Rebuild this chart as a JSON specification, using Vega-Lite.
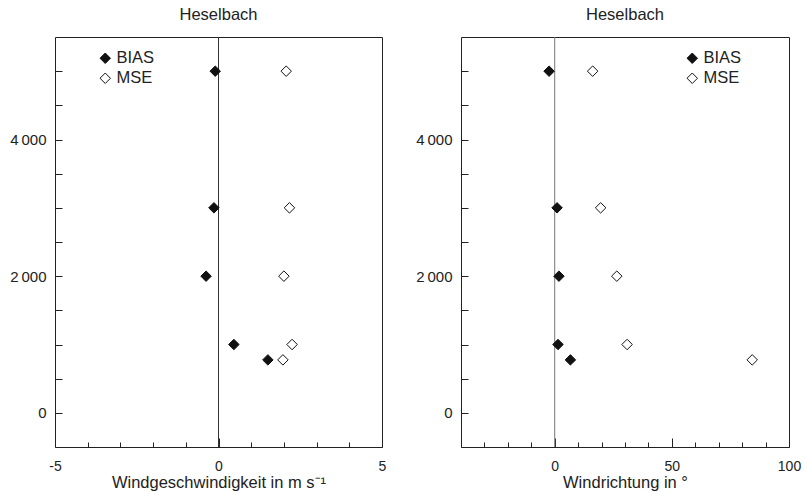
{
  "$schema": "https://vega.github.io/schema/vega-lite/v6.json",
  "padding": {"left": 9, "top": 6, "right": 0, "bottom": 0},
  "config": {
    "font": "Liberation Sans",
    "view": {"stroke": "#222", "strokeWidth": 1},
    "axis": {"grid": false, "domain": false, "labelOverlap": false, "labelFont": "Liberation Sans", "labelFontSize": 15, "labelColor": "#222", "titleFont": "Liberation Sans", "titleFontSize": 16.5, "titleFontWeight": "normal", "titleColor": "#222", "tickColor": "#222", "tickWidth": 1},
    "title": {"font": "Liberation Sans", "fontSize": 16.5, "fontWeight": "normal", "color": "#222", "anchor": "middle", "offset": 13},
    "legend": {"labelFont": "Liberation Sans", "labelFontSize": 16.5, "labelColor": "#222"},
    "concat": {"spacing": 28}
  },
  "datasets": {
    "pts": [
      {"panel": "speed", "stat": "BIAS", "height": 5000, "value": -0.1},
      {"panel": "speed", "stat": "BIAS", "height": 3000, "value": -0.14},
      {"panel": "speed", "stat": "BIAS", "height": 2000, "value": -0.38},
      {"panel": "speed", "stat": "BIAS", "height": 1000, "value": 0.47},
      {"panel": "speed", "stat": "BIAS", "height": 775, "value": 1.51},
      {"panel": "speed", "stat": "MSE", "height": 5000, "value": 2.07},
      {"panel": "speed", "stat": "MSE", "height": 3000, "value": 2.17},
      {"panel": "speed", "stat": "MSE", "height": 2000, "value": 2.0},
      {"panel": "speed", "stat": "MSE", "height": 1000, "value": 2.25},
      {"panel": "speed", "stat": "MSE", "height": 775, "value": 1.97},
      {"panel": "dir", "stat": "BIAS", "height": 5000, "value": -2.4},
      {"panel": "dir", "stat": "BIAS", "height": 3000, "value": 1.0},
      {"panel": "dir", "stat": "BIAS", "height": 2000, "value": 1.8},
      {"panel": "dir", "stat": "BIAS", "height": 1000, "value": 1.4},
      {"panel": "dir", "stat": "BIAS", "height": 775, "value": 6.7},
      {"panel": "dir", "stat": "MSE", "height": 5000, "value": 16.2},
      {"panel": "dir", "stat": "MSE", "height": 3000, "value": 19.6},
      {"panel": "dir", "stat": "MSE", "height": 2000, "value": 26.5},
      {"panel": "dir", "stat": "MSE", "height": 1000, "value": 30.9},
      {"panel": "dir", "stat": "MSE", "height": 775, "value": 84.3}
    ],
    "zero": [{"ref": 0}]
  },
  "hconcat": [
    {
      "title": "Heselbach",
      "width": 327,
      "height": 410,
      "layer": [
        {
          "data": {"name": "zero"},
          "mark": {"type": "rule", "color": "#333", "strokeWidth": 1},
          "encoding": {"x": {"field": "ref", "type": "quantitative", "scale": {"domain": [-5, 5], "nice": false, "zero": false},
            "axis": {"orient": "bottom", "title": "Windgeschwindigkeit in m s⁻¹", "values": [-5, 0, 5], "format": "d",
              "labelExpr": "datum.value < 0 ? '-' + abs(datum.value) : datum.label", "labelFontSize": 14,
              "labelFlush": false, "tickSize": -9, "labelPadding": 21, "titlePadding": 1}}}
        },
        {
          "data": {"name": "pts"},
          "transform": [{"filter": "datum.panel === 'speed'"}],
          "mark": {"type": "point", "shape": "diamond", "size": 110, "filled": true, "stroke": "#111", "strokeWidth": 1, "opacity": 1},
          "encoding": {
            "x": {"field": "value", "type": "quantitative", "scale": {"domain": [-5, 5], "nice": false, "zero": false},
              "axis": {"orient": "bottom", "title": null, "values": [-4, -3, -2, -1, 1, 2, 3, 4], "labels": false, "tickSize": -5}},
            "y": {"field": "height", "type": "quantitative", "scale": {"domain": [-500, 5500], "nice": false, "zero": false},
              "axis": {"title": null, "values": [0, 500, 1000, 1500, 2000, 2500, 3000, 3500, 4000, 4500, 5000],
                "labelExpr": "datum.value % 2000 === 0 ? (datum.value === 0 ? '0' : replace(format(datum.value, ','), ',', '\u2009')) : ''",
                "tickSize": -7, "labelPadding": 16}},
            "fill": {"field": "stat", "type": "nominal", "scale": {"domain": ["BIAS", "MSE"], "range": ["#111", "#ffffff"]},
              "legend": {"title": null, "orient": "none", "legendX": 42, "legendY": 13, "symbolType": "diamond", "symbolSize": 110, "symbolStrokeColor": "#111", "symbolStrokeWidth": 1, "rowPadding": 3, "labelOffset": 3}}
          }
        }
      ],
      "resolve": {"axis": {"x": "independent"}}
    },
    {
      "title": "Heselbach",
      "width": 328,
      "height": 410,
      "layer": [
        {
          "data": {"name": "zero"},
          "mark": {"type": "rule", "color": "#777", "strokeWidth": 1},
          "encoding": {"x": {"field": "ref", "type": "quantitative", "scale": {"domain": [-40, 100], "nice": false, "zero": false},
            "axis": {"orient": "bottom", "title": "Windrichtung in °", "values": [0, 50, 100], "format": "d", "labelFontSize": 14,
              "labelFlush": false, "tickSize": -9, "labelPadding": 21, "titlePadding": 1}}}
        },
        {
          "data": {"name": "pts"},
          "transform": [{"filter": "datum.panel === 'dir'"}],
          "mark": {"type": "point", "shape": "diamond", "size": 110, "filled": true, "stroke": "#111", "strokeWidth": 1, "opacity": 1},
          "encoding": {
            "x": {"field": "value", "type": "quantitative", "scale": {"domain": [-40, 100], "nice": false, "zero": false},
              "axis": {"orient": "bottom", "title": null, "values": [-40, -30, -20, -10, 10, 20, 30, 40, 60, 70, 80, 90], "labels": false, "tickSize": -5}},
            "y": {"field": "height", "type": "quantitative", "scale": {"domain": [-500, 5500], "nice": false, "zero": false},
              "axis": {"title": null, "values": [0, 500, 1000, 1500, 2000, 2500, 3000, 3500, 4000, 4500, 5000],
                "labelExpr": "datum.value % 2000 === 0 ? (datum.value === 0 ? '0' : replace(format(datum.value, ','), ',', '\u2009')) : ''",
                "tickSize": -7, "labelPadding": 16}},
            "fill": {"field": "stat", "type": "nominal", "scale": {"domain": ["BIAS", "MSE"], "range": ["#111", "#ffffff"]},
              "legend": {"title": null, "orient": "none", "legendX": 223, "legendY": 13, "symbolType": "diamond", "symbolSize": 110, "symbolStrokeColor": "#111", "symbolStrokeWidth": 1, "rowPadding": 3, "labelOffset": 3}}
          }
        }
      ],
      "resolve": {"axis": {"x": "independent"}}
    }
  ],
  "resolve": {"scale": {"x": "independent", "y": "independent", "fill": "independent"}, "legend": {"fill": "independent"}}
}
